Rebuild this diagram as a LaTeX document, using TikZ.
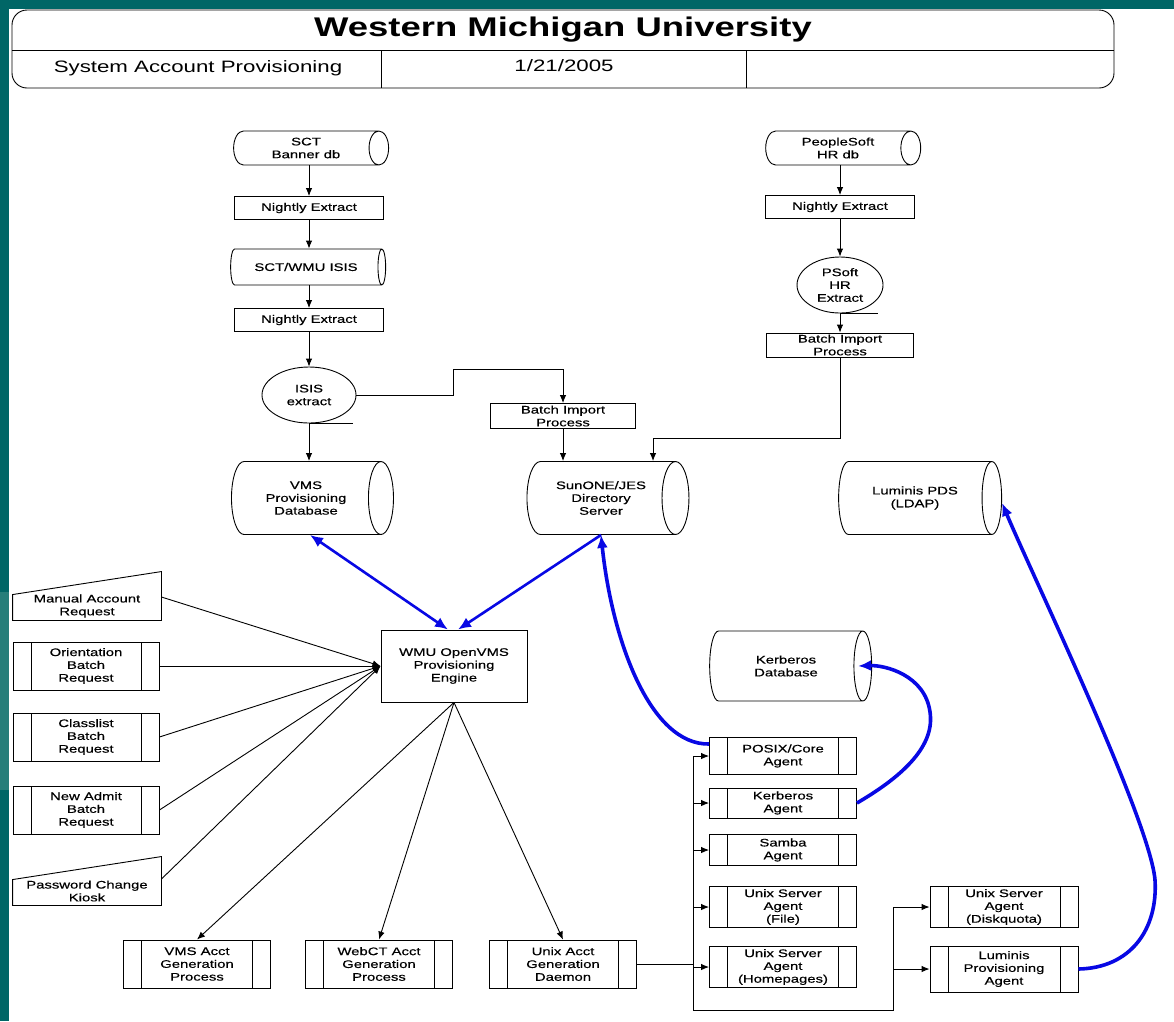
\documentclass[tikz,border=0pt]{standalone}
\usepackage{fontspec}
\setmainfont{Liberation Sans}[FakeStretch=1.35]
\newfontfamily\boxfont{Liberation Sans}[FakeStretch=1.35, FakeBold=0.4]
\usetikzlibrary{shapes.geometric,arrows.meta,positioning}
\definecolor{wmuteal}{RGB}{0,102,102}
\definecolor{wmutealL}{RGB}{38,126,122}
\definecolor{syncblue}{RGB}{8,8,228}
\newcommand{\nodefont}{\boxfont\fontsize{11}{12.8}\selectfont}

\begin{document}
\begin{tikzpicture}[x=1pt, y=-1pt, line width=0.9pt,
    every node/.style={font=\nodefont, align=center, inner sep=0pt},
    procbox/.style 2 args={draw, rectangle, minimum width=#1, minimum height=#2},
    predef/.style 2 args={procbox={#1}{#2}, path picture={
        \draw ([xshift=18pt]path picture bounding box.north west) -- ([xshift=18pt]path picture bounding box.south west)
              ([xshift=-18pt]path picture bounding box.north east) -- ([xshift=-18pt]path picture bounding box.south east);}},
    dbcyl/.style n args={3}{draw, cylinder, shape border rotate=0, aspect=#3, minimum height=#1, minimum width=#2},
    extract/.style 2 args={draw, ellipse, minimum width=#1, minimum height=#2},
    manin/.style={minimum width=148pt, minimum height=28pt},
    flow/.style={-{Latex[length=8pt,width=6.5pt]}},
    sync/.style={syncblue, line width=2.6pt, -{Latex[length=13pt,width=11pt]}},
    syncboth/.style={sync, {Latex[length=13pt,width=11pt]}-{Latex[length=13pt,width=11pt]}},
  ]
  \useasboundingbox (0,0) rectangle (1174,1021);
  \fill[white] (0,0) rectangle (1174,1021);
  \fill[wmuteal] (0,0) rectangle (1174,9);
  \fill[wmuteal] (0,0) rectangle (9,1021);
  \fill[wmutealL] (0,592) rectangle (9,790);

  % title block
  \draw[rounded corners=15pt] (12,10) rectangle (1114,88);
  \draw (12,50) -- (1114,50) (381,50) -- (381,88) (746,50) -- (746,88);
  \node (title) at (563,30) {\rmfamily\fontsize{27}{30}\selectfont\bfseries Western Michigan University};
  \node (subject) at (198,68) {\rmfamily\fontsize{16.5}{19}\selectfont System Account Provisioning};
  \node (date) at (564,66) {\rmfamily\fontsize{16.5}{19}\selectfont 1/21/2005};

  % student side
  \node (sctdb) at (306,148) [dbcyl={155pt}{34pt}{0.95}] {SCT\\Banner db};
  \node (ne1) at (309,208) [procbox={149pt}{23pt}] {Nightly Extract};
  \node (isisdb) at (306,267) [dbcyl={155pt}{36pt}{0.95}] {SCT/WMU ISIS};
  \node (ne2) at (309,320) [procbox={149pt}{23pt}] {Nightly Extract};
  \node (isisx) at (309,395) [extract={94pt}{56pt}] {ISIS\\extract};
  \node (vmsdb) at (306,498) [dbcyl={162pt}{73pt}{0.75}] {VMS\\Provisioning\\Database};
  \node (bip1) at (563,416) [procbox={145pt}{25pt}] {Batch Import\\Process};
  \node (sundb) at (601,498) [dbcyl={162pt}{73pt}{0.8}] {SunONE/JES\\Directory\\Server};

  % HR side
  \node (psdb) at (838,148) [dbcyl={155pt}{34pt}{0.95}] {PeopleSoft\\HR db};
  \node (ne3) at (840,207) [procbox={149pt}{23pt}] {Nightly Extract};
  \node (psx) at (840,285) [extract={86pt}{56pt}] {PSoft\\HR\\Extract};
  \node (bip2) at (840,345) [procbox={147pt}{24pt}] {Batch Import\\Process};
  \node (ldapdb) at (915,498) [dbcyl={163pt}{73pt}{0.85}] {Luminis PDS\\(LDAP)};

  % engine and requests
  \node (engine) at (454,666) [procbox={146pt}{72pt}] {WMU OpenVMS\\Provisioning\\Engine};
  \node (manual) at (87,606) [manin] {Manual Account\\Request};
  \node (orient) at (86,666) [predef={146pt}{48pt}] {Orientation\\Batch\\Request};
  \node (classl) at (86,737) [predef={146pt}{48pt}] {Classlist\\Batch\\Request};
  \node (newadm) at (86,810) [predef={146pt}{48pt}] {New Admit\\Batch\\Request};
  \node (passwd) at (87,891) [manin] {Password Change\\Kiosk};
  \foreach \n in {manual,passwd}
    \draw (\n.south west) -- ([yshift=-3pt]\n.north west) -- ([yshift=20pt]\n.north east) -- (\n.south east) -- cycle;

  \node (vmsgen) at (197,964) [predef={147pt}{48pt}] {VMS Acct\\Generation\\Process};
  \node (webgen) at (379,964) [predef={147pt}{48pt}] {WebCT Acct\\Generation\\Process};
  \node (unixgen) at (563,964) [predef={147pt}{48pt}] {Unix Acct\\Generation\\Daemon};

  % agents
  \node (kerbdb) at (786,666) [dbcyl={162pt}{70pt}{0.85}] {Kerberos\\Database};
  \node (posix) at (783,756) [predef={147pt}{37pt}] {POSIX/Core\\Agent};
  \node (kerbag) at (783,803) [predef={147pt}{30pt}] {Kerberos\\Agent};
  \node (samba) at (783,850) [predef={147pt}{31pt}] {Samba\\Agent};
  \node (fileag) at (783,907) [predef={147pt}{41pt}] {Unix Server\\Agent\\(File)};
  \node (homeag) at (783,967) [predef={147pt}{41pt}] {Unix Server\\Agent\\(Homepages)};
  \node (diskag) at (1004,907) [predef={148pt}{41pt}] {Unix Server\\Agent\\(Diskquota)};
  \node (lumag) at (1004,969) [predef={148pt}{46pt}] {Luminis\\Provisioning\\Agent};

  % extract flows
  \draw[flow] (ne1.north |- sctdb.south) -- (ne1);
  \draw[flow] (ne1) -- (ne1.south |- isisdb.north);
  \draw[flow] (ne2.north |- isisdb.south) -- (ne2);
  \draw[flow] (ne2) -- (isisx);
  \draw (isisx.south) -- ++(44,0);
  \draw[flow] (isisx.south) -- (isisx.south |- vmsdb.north);
  \draw[flow] (isisx.east) -| (453,369) -| (bip1.north);
  \draw[flow] (bip1.south) -- (bip1.south |- sundb.north);
  \draw[flow] (ne3.north |- psdb.south) -- (ne3);
  \draw[flow] (ne3) -- (psx);
  \draw (psx.south) -- ++(38,0);
  \draw[flow] (psx.south) -- (bip2.north);
  \draw[flow] (bip2.south) -- ++(0,81) -| ([xshift=52pt]sundb.north);

  % requests into engine
  \draw[flow] ([yshift=9pt]manual.east) -- (engine.west);
  \foreach \r in {orient,classl,newadm}
    \draw[flow] (\r.east) -- (engine.west);
  \draw[flow] ([yshift=12pt]passwd.east) -- (engine.west);
  \foreach \g in {vmsgen,webgen,unixgen}
    \draw[flow] (engine.south) -- (\g.north);

  % agent bus
  \coordinate (bus) at ([xshift=56pt]unixgen.east);
  \coordinate (bus2) at ([xshift=-36pt]lumag.west);
  \draw (unixgen.east) -- (bus);
  \foreach \a in {posix,kerbag,samba,fileag,homeag}
    \draw[flow] (bus) |- (\a.west);
  \draw (bus) -- ++(0,46) -| (bus2);
  \draw[flow] (bus2) |- (diskag.west);
  \draw[flow] (bus2) -- (lumag.west);

  % directory sync
  \draw[syncboth] ([xshift=4pt]vmsdb.south) -- ([xshift=-6pt]engine.north);
  \draw[sync] (sundb.south) -- ([xshift=4pt]engine.north);
  \draw[sync, line width=3.6pt] ([yshift=12pt]posix.west) .. controls (650,745) and (612,640) .. (sundb.south);
  \draw[sync, line width=3.6pt] (kerbag.east) .. controls (905,775) and (935,745) .. (930,712) .. controls (925,675) and (885,665) .. ([xshift=-14pt]kerbdb.east);
  \draw[sync, line width=3.6pt] (lumag.east) .. controls (1130,968) and (1158,930) .. (1155,880) .. controls (1150,820) and (1030,570) .. ([yshift=-5pt]ldapdb.east);
\end{tikzpicture}
\end{document}
